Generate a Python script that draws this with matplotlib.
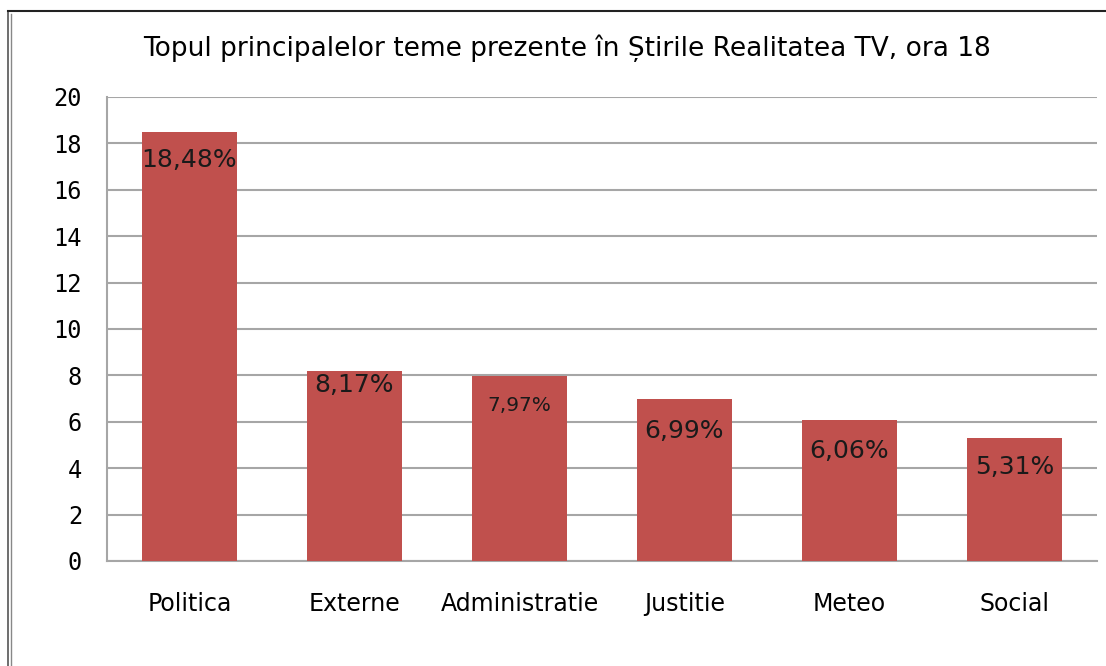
import matplotlib.pyplot as plt
from matplotlib.lines import Line2D

categorii = ["Politica", "Externe", "Administratie", "Justitie", "Meteo", "Social"]
valori = [18.48, 8.17, 7.97, 6.99, 6.06, 5.31]
etichete = ["18,48%", "8,17%", "7,97%", "6,99%", "6,06%", "5,31%"]

# label offsets below bar top (points) and font sizes
offsets = [-20, -10, -21, -23, -22, -21]
sizes = [18, 18, 14.5, 18, 18, 18]

plt.rcParams['font.family'] = ['DejaVu Sans']

fig = plt.figure(figsize=(11.06, 6.66), dpi=100)
ax = fig.add_axes([107 / 1106, 1 - 561 / 666, 990 / 1106, 464 / 666])

x = range(len(categorii))
ax.bar(x, valori, width=0.57, color="#C0504D", zorder=3)
for i, (v, t) in enumerate(zip(valori, etichete)):
    ax.annotate(t, (i, v), xytext=(0, offsets[i]), textcoords="offset points",
                ha="center", va="center", fontsize=sizes[i], color="#1a1a1a", zorder=4)

ax.set_xlim(-0.5, len(categorii) - 0.5)
ax.set_ylim(0, 20)
ax.set_yticks(range(0, 21, 2))
ax.set_xticks(list(x))
ax.set_xticklabels(categorii, fontsize=17)
ax.tick_params(axis="y", labelsize=17, length=0, pad=18)
ax.tick_params(axis="x", length=0, pad=22)
for lbl in ax.get_yticklabels():
    lbl.set_family("DejaVu Sans Mono")
ax.grid(axis="y", color="#a6a6a6", linewidth=1.5, zorder=0)
for s in ["top", "right"]:
    ax.spines[s].set_visible(False)
ax.spines["left"].set_color("#a6a6a6")
ax.spines["bottom"].set_color("#a6a6a6")
ax.spines["left"].set_linewidth(1.5)
ax.spines["bottom"].set_linewidth(1.5)

fig.text(567 / 1106, 1 - 48 / 666, "Topul principalelor teme prezente în Știrile Realitatea TV, ora 18",
         ha="center", va="center", fontsize=19)

# outer frame
W, H = 1106, 666
fig.add_artist(Line2D([8 / W, 8 / W], [0, 1 - 11 / H], color="#555555", lw=1.2, transform=fig.transFigure))
fig.add_artist(Line2D([11 / W, 11 / W], [0, 1 - 14 / H], color="#888888", lw=1.0, transform=fig.transFigure))
fig.add_artist(Line2D([8 / W, 1], [1 - 11 / H, 1 - 11 / H], color="#222222", lw=1.5, transform=fig.transFigure))

fig.savefig("out.png", dpi=100)
